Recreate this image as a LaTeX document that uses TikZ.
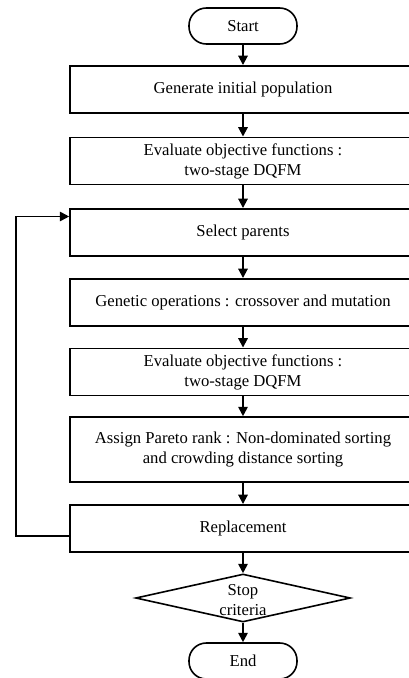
\documentclass[tikz,border=0pt]{standalone}
\usepackage{fontspec}
\setmainfont{Liberation Serif}
\usepackage{tikz}
\usetikzlibrary{arrows.meta}
\usetikzlibrary{shapes.geometric}

\begin{document}
\begin{tikzpicture}[x=0.75pt,y=0.75pt,yscale=-1,xscale=1,
  every node/.style={font=\fontsize{12.5}{15}\selectfont, align=center},
  procbox/.style={draw, line width=1.2pt, minimum width=259.5pt, minimum height=35.5pt, inner sep=0.75pt},
  termbox/.style={draw, line width=1.2pt, rounded corners=13pt, minimum width=81pt, minimum height=27pt, inner sep=0.75pt},
  stopbox/.style={draw, line width=1.2pt, diamond, aspect=4.5, minimum width=161pt, minimum height=36pt, inner sep=0pt},
  flow/.style={line width=1.4pt, -{Triangle[length=7pt,width=7pt]}}]
%set diagram to 409 x 678
\clip (0,0) rectangle (409,678);

%Terminal: Start
\node [termbox] (start) at (243,26) {Start};
%Shape: Rectangle
\node [procbox] (init) at (243,89.5) {Generate initial population};
%Shape: Rectangle
\node [procbox] (eval1) at (243,161) {Evaluate objective functions :\\two-stage DQFM};
%Shape: Rectangle
\node [procbox] (sel) at (243,232.5) {Select parents};
%Shape: Rectangle
\node [procbox] (gen) at (243,302.5) {Genetic operations : crossover and mutation};
%Shape: Rectangle
\node [procbox] (eval2) at (243,372) {Evaluate objective functions :\\two-stage DQFM};
%Shape: Rectangle
\node [procbox, minimum height=48.75pt] (rank) at (243,449.5) {Assign Pareto rank : Non-dominated sorting\\and crowding distance sorting};
%Shape: Rectangle
\node [procbox] (rep) at (243,528.5) {Replacement};
%Shape: Diamond
\node [stopbox] (stop) at (243,598) {};
\node (stoptxt) at (243,600) {Stop\\criteria};
%Terminal: End
\node [termbox] (end) at (243,661) {End};

%Straight Lines
\draw [flow] (start) -- (init);
\draw [flow] (init) -- (eval1);
\draw [flow] (eval1) -- (sel);
\draw [flow] (sel) -- (gen);
\draw [flow] (gen) -- (eval2);
\draw [flow] (eval2) -- (rank);
\draw [flow] (rank) -- (rep);
\draw [flow] (rep) -- (stop);
\draw [flow] (stop) -- (end);
%Loop back
\draw [flow] ([yshift=5.6pt]rep.west) -- ++(-53,0) |- ([yshift=-12pt]sel.west);

\end{tikzpicture}
\end{document}
